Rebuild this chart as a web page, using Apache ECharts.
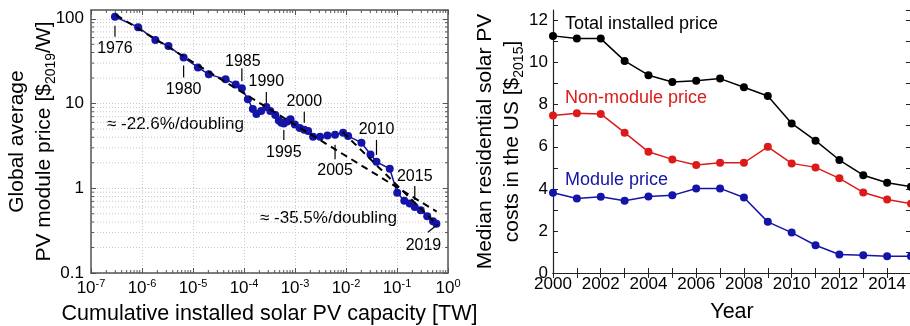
<!DOCTYPE html>
<html><head><meta charset="utf-8">
<script src="https://cdn.jsdelivr.net/npm/echarts@6/dist/echarts.min.js"></script>
<style>html,body{margin:0;padding:0;background:#fff}#c{width:910px;height:326px}</style>
</head><body><div id="c"></div>
<script>
// ---------- Left panel data (learning curve) ----------
const pvYears = [1976,1977,1978,1979,1980,1981,1982,1983,1984,1985,1986,1987,1988,1989,1990,1991,1992,1993,1994,1995,1996,1997,1998,1999,2000,2001,2002,2003,2004,2005,2006,2007,2008,2009,2010,2011,2012,2013,2014,2015,2016,2017,2018,2019];
const pvCapacityTW = [2.95e-7,8.4e-7,1.83e-6,3.3e-6,6.55e-6,1.25e-5,2.04e-5,4.35e-5,6.87e-5,9.08e-5,1.19e-4,1.49e-4,1.75e-4,2.17e-4,2.74e-4,3.28e-4,4.11e-4,4.82e-4,5.4e-4,6.04e-4,7.07e-4,8.17e-4,9.93e-4,1.24e-3,1.52e-3,1.81e-3,2.26e-3,3.1e-3,4.33e-3,6.1e-3,8.77e-3,1.1e-2,2.01e-2,3.02e-2,3.96e-2,7.21e-2,0.101,0.139,0.178,0.223,0.292,0.391,0.508,0.593];
const pvPrice = [105.6,79.7,56.1,47.7,35.0,26.7,22.1,19.4,16.8,15.1,11.2,8.62,7.52,8.17,9.11,8.17,7.32,6.31,5.94,5.81,6.14,6.51,5.65,5.14,4.91,4.74,4.06,4.06,4.19,4.28,4.51,4.13,3.45,2.50,2.05,1.70,0.883,0.714,0.662,0.603,0.551,0.468,0.409,0.382];
const fitSlow = [[3.1e-7, 111], [0.6, 0.53]];      // ≈ -22.6%/doubling
const fitFast = [[8.65e-3, 4.61], [0.628, 0.366]]; // ≈ -35.5%/doubling
const labelledYears = [1976,1980,1985,1990,1995,2000,2005,2010,2015,2019];
const xDecadeExps = [-7,-6,-5,-4,-3,-2,-1,0];
const yDecadeExps = [-1,0,1,2];
const minorMults = [2,3,4,5,6,7,8,9];

// ---------- Right panel data (US residential costs) ----------
const usYears = [2000,2001,2002,2003,2004,2005,2006,2007,2008,2009,2010,2011,2012,2013,2014,2015];
const totalPrice = [11.27,11.14,11.14,10.08,9.40,9.08,9.14,9.24,8.83,8.41,7.11,6.29,5.37,4.65,4.29,4.10];
const nonModulePrice = [7.48,7.59,7.56,6.67,5.76,5.40,5.13,5.24,5.24,6.00,5.21,5.02,4.50,3.83,3.49,3.30];
const modulePrice = [3.81,3.54,3.62,3.43,3.64,3.69,4.02,4.02,3.59,2.43,1.92,1.32,0.88,0.84,0.80,0.80];

// ---------- styles / layout ----------
const FONT = '"Liberation Sans", Arial, Helvetica, sans-serif';
const BLUE = '#1414a8', RED = '#dd1a1a', BLACK = '#000';
const XMIN = 1e-7, XMAX = 1, YMIN = 0.1, YMAX = 127;
const annLayout = {
  1976: {t:[0,9,0,20], l:[0,32]},
  1980: {t:[0,8,0,20], l:[0,32.5]},
  1985: {t:[0,-20,0,-7], l:[1,-27]},
  1990: {t:[0,-15,0,-4], l:[0,-25]},
  1995: {t:[0,6.5,0,16.5], l:[0,29]},
  2000: {t:[0,-18,0,-7], l:[0,-28]},
  2005: {t:[0,10,0,24.5], l:[0,36]},
  2010: {t:[0,-22,0,-7], l:[0,-32]},
  2015: {t:[0,-21,0,-7], l:[0,-30]},
  2019: {t:[0,1.5,-8.5,8.5], l:[-13,21.5]}
};

const xMinor = [], yMinor = [];
xDecadeExps.slice(0,-1).forEach(e => minorMults.forEach(m => xMinor.push(m*Math.pow(10,e))));
yDecadeExps.forEach(e => minorMults.forEach(m => { const v = m*Math.pow(10,e); if (v < YMAX) yMinor.push(v); }));

const chart = echarts.init(document.getElementById('c'), null, {renderer:'canvas'});
const axisLineL = {show:true, lineStyle:{color:'#555', width:1.5}};
const axisLineR = {show:true, lineStyle:{color:'#222', width:1.2}};
const gridLine = {show:true, lineStyle:{color:'#c8c8c8', width:1, type:[1,2]}};

function logXLabel(v){ const e = Math.round(Math.log10(v)); return '10{sup|' + e + '}'; }
function logYLabel(v){ const e = Math.log10(v); if (Math.abs(e-Math.round(e))>1e-6) return ''; return String(Number(Math.pow(10,Math.round(e)).toPrecision(3))); }

const option = {
  animation: false,
  backgroundColor: '#fff',
  textStyle: {fontFamily: FONT},
  grid: [
    {left: 91, top: 10, width: 357, height: 263, outerBoundsMode: 'none'},
    {left: 553, top: 10, width: 358, height: 263, outerBoundsMode: 'none'}
  ],
  xAxis: [
    {type:'log', gridIndex:0, min:XMIN, max:XMAX, logBase:10, position:'bottom',
     axisLine: axisLineL, axisTick:{show:true, inside:true, length:5, lineStyle:{color:'#555'}},
     splitLine: gridLine,
     axisLabel:{margin:5, color:'#000', formatter: logXLabel,
       rich:{ sup:{fontSize:11, verticalAlign:'top', lineHeight:11, fontFamily:FONT, color:'#000'}},
       fontSize:17, lineHeight:20, fontFamily:FONT},
     name:'Cumulative installed solar PV capacity [TW]', nameLocation:'middle', nameGap:28,
     nameTextStyle:{fontSize:21.5, color:'#000', fontFamily:FONT}},
    {type:'log', gridIndex:0, min:XMIN, max:XMAX, logBase:10, position:'top',
     axisLine: axisLineL, axisTick:{show:true, inside:true, length:5, lineStyle:{color:'#555'}},
     axisLabel:{show:false}, splitLine:{show:false}},
    {type:'value', gridIndex:1, min:2000, max:2015, interval:1, position:'bottom',
     axisLine: axisLineR, axisTick:{show:true, inside:true, length:5, lineStyle:{color:'#222'}},
     splitLine:{show:false},
     axisLabel:{margin:3, color:'#000', fontSize:17, fontFamily:FONT, formatter: v => (v%2===0 ? String(v) : '')},
     name:'Year', nameLocation:'middle', nameGap:28, nameTextStyle:{fontSize:21.5, color:'#000', fontFamily:FONT}},
    {type:'value', gridIndex:1, min:2000, max:2015, interval:1, position:'top',
     axisLine: axisLineR, axisTick:{show:true, inside:true, length:5, lineStyle:{color:'#222'}},
     axisLabel:{show:false}, splitLine:{show:false}}
  ],
  yAxis: [
    {type:'log', gridIndex:0, min:YMIN, max:YMAX, logBase:10, position:'left',
     axisLine: axisLineL, axisTick:{show:true, inside:true, length:5, lineStyle:{color:'#555'}},
     splitLine: gridLine,
     axisLabel:{margin:7, color:'#000', fontSize:17, fontFamily:FONT, formatter: logYLabel, showMaxLabel:false},
     name:'{a|Global average}\n{a|PV module price [$}{s|2019}{a|/W]}', nameLocation:'middle', nameRotate:90,
     nameGap:33, nameMoveOverlap:false,
     nameTextStyle:{color:'#000', rich:{
       a:{fontSize:21, lineHeight:27, fontFamily:FONT, color:'#000'},
       s:{fontSize:14, lineHeight:14, verticalAlign:'bottom', fontFamily:FONT, color:'#000'}}}},
    {type:'log', gridIndex:0, min:YMIN, max:YMAX, logBase:10, position:'right',
     axisLine: axisLineL, axisTick:{show:true, inside:true, length:5, lineStyle:{color:'#555'}},
     axisLabel:{show:false}, splitLine:{show:false}},
    {type:'value', gridIndex:1, min:0, max:12.5, interval:1, position:'left',
     axisLine: axisLineR, axisTick:{show:true, inside:true, length:5, lineStyle:{color:'#222'}},
     splitLine:{show:false},
     axisLabel:{margin:5, color:'#000', fontSize:17, fontFamily:FONT, showMaxLabel:false,
       formatter: v => (v%2===0 ? String(v) : '')},
     name:'{a|Median residential solar PV}\n{a|costs in the US [$}{s|2015}{a|]}', nameLocation:'middle', nameRotate:90,
     nameGap:27, nameMoveOverlap:false,
     nameTextStyle:{color:'#000', rich:{
       a:{fontSize:21, lineHeight:27, fontFamily:FONT, color:'#000'},
       s:{fontSize:14, lineHeight:14, verticalAlign:'bottom', fontFamily:FONT, color:'#000'}}}},
    {type:'value', gridIndex:1, min:0, max:12.5, interval:1, position:'right',
     axisLine: axisLineR, axisTick:{show:true, inside:true, length:5, lineStyle:{color:'#222'}},
     axisLabel:{show:false}, splitLine:{show:false}}
  ],
  graphic: [
    {type:'text', left:107, top:116, style:{text:'≈ -22.6%/doubling', font:'17px '+FONT, fill:'#000'}},
    {type:'text', left:260, top:210, style:{text:'≈ -35.5%/doubling', font:'17px '+FONT, fill:'#000'}},
    {type:'text', left:565, top:15, style:{text:'Total installed price', font:'18px '+FONT, fill:BLACK}},
    {type:'text', left:565, top:89, style:{text:'Non-module price', font:'18px '+FONT, fill:RED}},
    {type:'text', left:565, top:171, style:{text:'Module price', font:'18px '+FONT, fill:BLUE}}
  ],
  series: [
    {type:'custom', xAxisIndex:0, yAxisIndex:0, silent:true, z:1,
     data: yMinor.map(v => [XMIN, v]),
     renderItem(params, api){
       const y = api.value(1); const a = api.coord([XMIN, y]); const b = api.coord([XMAX, y]);
       return {type:'line', shape:{x1:a[0], y1:a[1], x2:b[0], y2:b[1]}, style:{stroke:'#c8c8c8', lineWidth:1, lineDash:[1,2]}};
     }},
    {type:'custom', xAxisIndex:0, yAxisIndex:0, silent:true, z:3,
     data: xMinor.map(v => [v, YMIN]),
     renderItem(params, api){
       const x = api.value(0); const a = api.coord([x, YMIN]); const b = api.coord([x, YMAX]);
       return {type:'group', children:[
         {type:'line', shape:{x1:a[0], y1:a[1], x2:a[0], y2:a[1]-3}, style:{stroke:'#555', lineWidth:1}},
         {type:'line', shape:{x1:b[0], y1:b[1], x2:b[0], y2:b[1]+3}, style:{stroke:'#555', lineWidth:1}}
       ]};
     }},
    {type:'custom', xAxisIndex:0, yAxisIndex:0, silent:true, z:3,
     data: yMinor.map(v => [XMIN, v]),
     renderItem(params, api){
       const y = api.value(1); const a = api.coord([XMIN, y]); const b = api.coord([XMAX, y]);
       return {type:'group', children:[
         {type:'line', shape:{x1:a[0], y1:a[1], x2:a[0]+3, y2:a[1]}, style:{stroke:'#555', lineWidth:1}},
         {type:'line', shape:{x1:b[0], y1:b[1], x2:b[0]-3, y2:b[1]}, style:{stroke:'#555', lineWidth:1}}
       ]};
     }},
    {name:'PV module price', type:'line', xAxisIndex:0, yAxisIndex:0, z:5,
     data: pvCapacityTW.map((c,i) => [c, pvPrice[i]]),
     symbol:'circle', symbolSize:8, lineStyle:{color:BLUE, width:1.5}, itemStyle:{color:BLUE}},
    {type:'line', xAxisIndex:0, yAxisIndex:0, z:6, data: fitSlow, symbol:'none',
     lineStyle:{color:'#000', width:2, type:[7,5]}},
    {type:'line', xAxisIndex:0, yAxisIndex:0, z:6, data: fitFast, symbol:'none',
     lineStyle:{color:'#000', width:2, type:[7,5]}},
    {type:'custom', xAxisIndex:0, yAxisIndex:0, silent:true, z:7,
     data: labelledYears.map(y => { const i = pvYears.indexOf(y); return [pvCapacityTW[i], pvPrice[i], y]; }),
     renderItem(params, api){
       const yr = api.value(2); const L = annLayout[yr];
       const p = api.coord([api.value(0), api.value(1)]);
       return {type:'group', children:[
         {type:'line', shape:{x1:p[0]+L.t[0], y1:p[1]+L.t[1], x2:p[0]+L.t[2], y2:p[1]+L.t[3]}, style:{stroke:'#000', lineWidth:1.2}},
         {type:'text', x:p[0]+L.l[0], y:p[1]+L.l[1], style:{text:String(yr), fill:'#000', font:'16px '+FONT, align:'center', verticalAlign:'middle'}}
       ]};
     }},
    {name:'Total installed price', type:'line', xAxisIndex:2, yAxisIndex:2, z:5,
     data: usYears.map((y,i) => [y, totalPrice[i]]), symbol:'circle', symbolSize:8,
     lineStyle:{color:BLACK, width:1.5}, itemStyle:{color:BLACK}},
    {name:'Non-module price', type:'line', xAxisIndex:2, yAxisIndex:2, z:5,
     data: usYears.map((y,i) => [y, nonModulePrice[i]]), symbol:'circle', symbolSize:8,
     lineStyle:{color:RED, width:1.5}, itemStyle:{color:RED}},
    {name:'Module price', type:'line', xAxisIndex:2, yAxisIndex:2, z:5,
     data: usYears.map((y,i) => [y, modulePrice[i]]), symbol:'circle', symbolSize:8,
     lineStyle:{color:BLUE, width:1.5}, itemStyle:{color:BLUE}}
  ]
};
chart.setOption(option);
</script>
</body></html>
